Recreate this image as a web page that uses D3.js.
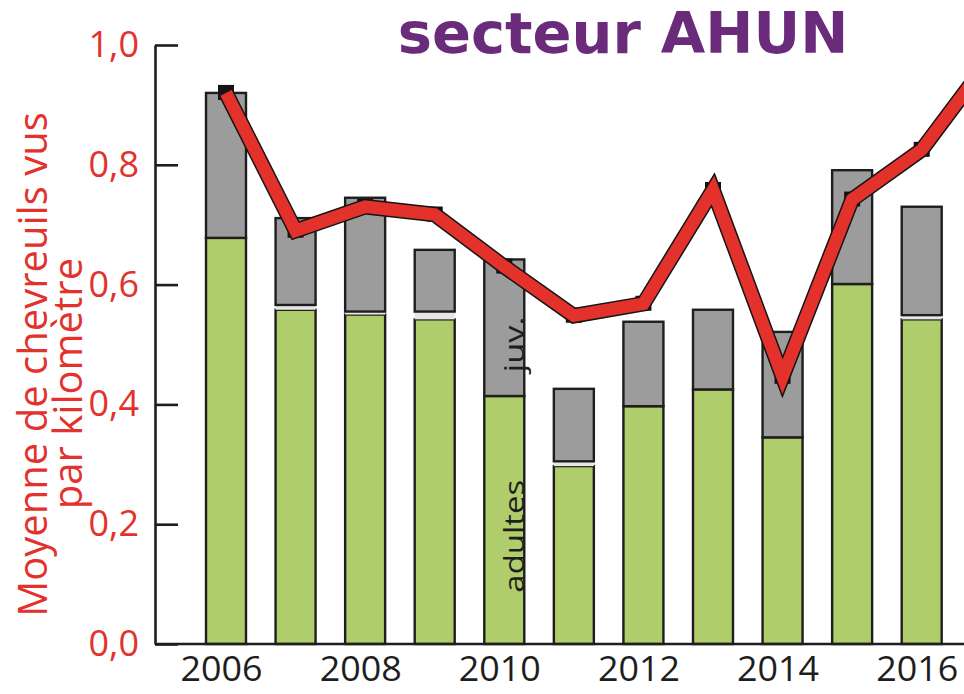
<!DOCTYPE html>
<html lang="fr">
<head>
<meta charset="utf-8">
<title>secteur AHUN</title>
<script src="https://cdn.jsdelivr.net/npm/d3@7"></script>
<style>
  html, body { margin: 0; padding: 0; background: #fff; }
  svg { display: block; overflow: hidden; }
</style>
</head>
<body>
<svg id="chart" width="964" height="694"></svg>
<script>
// Roe deer seen per kilometre, AHUN sector
const years = [2006, 2007, 2008, 2009, 2010, 2011, 2012, 2013, 2014, 2015, 2016];
const adultes      = [0.678, 0.558, 0.550, 0.542, 0.414, 0.297, 0.397, 0.425, 0.345, 0.601, 0.542];
const indetermines = [0.000, 0.008, 0.005, 0.013, 0.000, 0.008, 0.000, 0.000, 0.000, 0.000, 0.007];
const juveniles    = [0.242, 0.145, 0.190, 0.103, 0.228, 0.121, 0.141, 0.133, 0.176, 0.190, 0.181];

// Mean count per km (red line), the series runs one year past the last bar
const lineYears = [2006, 2007, 2008, 2009, 2010, 2011, 2012, 2013, 2014, 2015, 2016, 2017];
const moyenne   = [0.920, 0.690, 0.730, 0.717, 0.630, 0.548, 0.568, 0.758, 0.446, 0.742, 0.825, 0.980];

const yTicks = [0, 0.2, 0.4, 0.6, 0.8, 1.0];
const xTickYears = [2006, 2008, 2010, 2012, 2014, 2016];

const titre = "secteur AHUN";
const titreAxeY = ["Moyenne de chevreuils vus", "par kilomètre"];

const W = 964, H = 694;
const RED = "#e3312b", GREEN = "#afcd6a", GREY = "#9b9c9b", LIGHT = "#e6e6e6", INK = "#1e1e1e";

const svg = d3.select("#chart");

const y = d3.scaleLinear().domain([0, 1]).range([644, 45]);
const x = d3.scaleLinear().domain([2006, 2016]).range([226, 921.7]);
const axisX = 155;
const barW = 40;

const fr = d3.formatLocale({ decimal: ",", thousands: " ", grouping: [3], currency: ["", " €"] });
const fmt = fr.format(".1f");

// Stacked bars: adults at the bottom, undetermined, juveniles on top
const rows = years.map((yr, i) => ({ year: yr, adultes: adultes[i], indet: indetermines[i], juv: juveniles[i] }));
const stack = d3.stack().keys(["adultes", "indet", "juv"])(rows);
const fills = { adultes: GREEN, indet: LIGHT, juv: GREY };

const barsG = svg.append("g");
stack.forEach(layer => {
  barsG.append("g")
    .selectAll("rect")
    .data(layer.filter(d => d[1] - d[0] > 0))
    .join("rect")
    .attr("x", d => x(d.data.year) - barW / 2)
    .attr("width", barW)
    .attr("y", d => y(d[1]))
    .attr("height", d => y(d[0]) - y(d[1]))
    .attr("fill", fills[layer.key])
    .attr("stroke", layer.key === "indet" ? "none" : INK)
    .attr("stroke-width", 2.4);
});

// Y axis with inward ticks
const yAxis = d3.axisLeft(y)
  .tickValues(yTicks)
  .tickFormat(fmt)
  .tickSize(-23)
  .tickSizeOuter(0)
  .tickPadding(16);

const gy = svg.append("g").attr("transform", `translate(${axisX},0)`).call(yAxis);
gy.select(".domain").attr("stroke", INK).attr("stroke-width", 2.6);
gy.selectAll(".tick line").attr("stroke", INK).attr("stroke-width", 2.6);
gy.selectAll(".tick text")
  .attr("fill", RED)
  .attr("font-family", "'Open Sans', sans-serif")
  .attr("font-size", 36);

// Baseline running to the right edge
svg.append("line")
  .attr("x1", axisX).attr("x2", W)
  .attr("y1", y(0)).attr("y2", y(0))
  .attr("stroke", INK).attr("stroke-width", 2.6);

// Year labels
const xAxis = d3.axisBottom(x).tickValues(xTickYears).tickFormat(d3.format("d")).tickSize(0).tickPadding(13);
const gx = svg.append("g").attr("transform", `translate(-5,${y(0)})`).call(xAxis);
gx.select(".domain").remove();
gx.selectAll(".tick text")
  .attr("fill", INK)
  .attr("font-family", "'Open Sans', sans-serif")
  .attr("font-size", 34)
  .attr("textLength", 82)
  .attr("lengthAdjust", "spacingAndGlyphs");

// Markers under the line
const pts = lineYears.map((yr, i) => ({ year: yr, v: moyenne[i] }));
svg.append("g")
  .selectAll("rect")
  .data(pts)
  .join("rect")
  .attr("x", d => x(d.year) - 8)
  .attr("y", d => y(d.v) - 8)
  .attr("width", 16)
  .attr("height", 15)
  .attr("fill", "#141414");

const line = d3.line().x(d => x(d.year)).y(d => y(d.v));
svg.append("path")
  .attr("d", line(pts))
  .attr("fill", "none")
  .attr("stroke", "#141414")
  .attr("stroke-width", 15.5)
  .attr("stroke-linejoin", "miter")
  .attr("stroke-miterlimit", 10);
svg.append("path")
  .attr("d", line(pts))
  .attr("fill", "none")
  .attr("stroke", RED)
  .attr("stroke-width", 12.5)
  .attr("stroke-linejoin", "miter")
  .attr("stroke-miterlimit", 10);

// Segment captions inside the 2010 bar
const capX = x(2010) + 19.5;
svg.append("text")
  .attr("transform", `translate(${capX},${y(0.18)}) rotate(-90)`)
  .attr("text-anchor", "middle")
  .attr("font-family", "'Open Sans', sans-serif")
  .attr("font-size", 27)
  .attr("textLength", 113)
  .attr("lengthAdjust", "spacingAndGlyphs")
  .attr("fill", INK)
  .text("adultes");
svg.append("text")
  .attr("transform", `translate(${capX},${y(0.5)}) rotate(-90)`)
  .attr("text-anchor", "middle")
  .attr("font-family", "'Open Sans', sans-serif")
  .attr("font-size", 27)
  .attr("textLength", 56)
  .attr("lengthAdjust", "spacingAndGlyphs")
  .attr("fill", INK)
  .text("juv.");

// Y axis title on two lines
const titleLines = [
  { text: titreAxeY[0], bx: 47, cy: 364.5 },
  { text: titreAxeY[1], bx: 82, cy: 383.5 }
];
svg.append("g")
  .selectAll("text")
  .data(titleLines)
  .join("text")
  .attr("transform", d => `translate(${d.bx},${d.cy}) rotate(-90)`)
  .attr("text-anchor", "middle")
  .attr("font-family", "'Open Sans', sans-serif")
  .attr("font-size", 40)
  .attr("fill", RED)
  .text(d => d.text);

// Chart title
svg.append("text")
  .attr("x", 623)
  .attr("y", 53)
  .attr("text-anchor", "middle")
  .attr("font-family", "'DejaVu Sans', sans-serif")
  .attr("font-weight", "bold")
  .attr("font-size", 57.5)
  .attr("fill", "#6a2b7b")
  .text(titre);
</script>
</body>
</html>
